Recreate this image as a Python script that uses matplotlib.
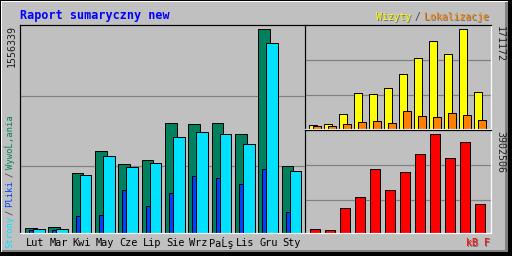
import matplotlib
matplotlib.use("Agg")
import matplotlib.pyplot as plt
from matplotlib.patches import Rectangle

# month labels as they appear in the picture (bytes shown through the wrong code page)
MONTHS = ["Lut", "Mar", "Kwi", "May", "Cze", "Lip", "Sie", "Wrz", "PaĹş", "Lis", "Gru", "Sty"]

HITS = [40800, 48500, 461800, 630200, 530700, 561300, 836800, 829200, 836800, 760300, 1556339, 515400]
FILES = [25500, 25500, 132700, 140300, 331700, 209200, 308700, 438800, 423500, 377600, 492400, 163300]
PAGES = [33200, 33200, 446500, 591900, 507700, 538300, 737300, 768000, 760300, 683800, 1449200, 477100]

VISITS = [5800, 7500, 24950, 62100, 59800, 70200, 93400, 122400, 150300, 129400, 171172, 63800]
SITES = [4060, 4060, 7540, 11600, 13350, 9860, 30750, 21470, 19730, 26690, 23210, 15090]

KBYTES = [171400, 131800, 975600, 1410700, 2518200, 1687600, 2399500, 3111400, 3902506, 2953200, 3586100, 1133800]

BG = "#C0C0C0"
C_HITS = "#00805C"
C_FILES = "#0040FF"
C_PAGES = "#00E0FF"
C_VISITS = "#FFFF00"
C_SITES = "#FF8000"
C_KB = "#FF0000"

W, H = 512, 256
PX = 72 / 100  # one pixel in points at dpi 100
MONO = "DejaVu Sans Mono"


def box(x0, y0, x1, y1):
    return [x0 / W, 1 - y1 / H, (x1 - x0) / W, (y1 - y0) / H]


def rect(fig, x0, y0, x1, y1, color):
    fig.add_artist(Rectangle((x0 / W, 1 - y1 / H), (x1 - x0) / W, (y1 - y0) / H,
                             transform=fig.transFigure, facecolor=color, edgecolor="none", zorder=0))


def label(fig, x, y, s, color, shadow=True, **kw):
    if shadow:
        fig.text((x + 1) / W, 1 - (y + 1) / H, s, color="#707070", family=MONO, **kw)
    fig.text(x / W, 1 - y / H, s, color=color, family=MONO, **kw)


def panel(fig, rect_px, x0, slot, ymax):
    ax = fig.add_axes(box(*rect_px))
    ax.set_facecolor(BG)
    ax.set_xlim((rect_px[0] - x0) / slot, (rect_px[2] - x0) / slot)
    ax.set_ylim(0, ymax)
    ax.set_xticks([])
    ax.set_yticks([])
    for side, col in [("top", "black"), ("left", "black"), ("bottom", "white"), ("right", "white")]:
        ax.spines[side].set_color(col)
        ax.spines[side].set_linewidth(1.2 * PX)
    for frac in (0.32, 0.66):
        ax.axhline(frac * ymax, color="#808080", lw=1.2 * PX, zorder=1)
    return ax


fig = plt.figure(figsize=(5.12, 2.56), dpi=100)
fig.patch.set_facecolor(BG)
rect(fig, 0, 0, 512, 256, "black")
rect(fig, 1, 1, 508, 252, "white")
rect(fig, 2, 2, 508, 252, "#808080")
rect(fig, 2, 2, 505, 250, BG)

n = len(MONTHS)
xs = list(range(n))
edge = dict(edgecolor="black", linewidth=PX, align="edge", zorder=2)

# main panel: hits / files / pages
slot = 70 / 3
ax = panel(fig, (20, 25, 305, 233), 25, slot, max(HITS) * 1.0213)
ax.bar(xs, HITS, 11.7 / slot, color=C_HITS, **edge)
ax.bar([x + 4 / slot for x in xs], FILES, 4 / slot, color=C_FILES, **edge)
ax.bar([x + 8 / slot for x in xs], PAGES, 11.7 / slot, color=C_PAGES, **edge)
for x, m in zip(xs, MONTHS):
    cx = 25 + (x + 10 / slot) * slot
    fig.text(cx / W, 1 - 243 / H, m, ha="center", va="center", family=MONO, fontsize=7.4, color="black")

# top right: visits / sites
ax2 = panel(fig, (305, 25, 491, 128.5), 309, 15, max(VISITS) * 1.044)
ax2.bar(xs, VISITS, 7.5 / 15, color=C_VISITS, **edge)
ax2.bar([x + 4 / 15 for x in xs], SITES, 7.6 / 15, color=C_SITES, **edge)

# bottom right: kbytes
ax3 = panel(fig, (305, 130, 491, 233), 309, 15, max(KBYTES) * 1.0405)
ax3.bar([x + 1.3 / 15 for x in xs], KBYTES, 9.3 / 15, color=C_KB, **edge)

# texts
fig.text(20 / W, 1 - 15 / H, "Raport sumaryczny new", color="#0000FF", family=MONO,
         fontsize=8.5, fontweight="bold", va="center")

label(fig, 376, 17, "Wizyty", C_VISITS, fontsize=7, va="center")
label(fig, 415, 17, "/", "#404040", shadow=False, fontsize=7, va="center")
label(fig, 424, 17, "Lokalizacje", C_SITES, fontsize=7, va="center")

label(fig, 490, 243, "kB F", C_KB, fontsize=7.2, va="center", ha="right")

fig.text(12 / W, 1 - 25 / H, f"{max(HITS)}", rotation=90, ha="center", va="top",
         family=MONO, fontsize=7.2, color="#202020")
fig.text(500 / W, 1 - 26 / H, f"{max(VISITS)}", rotation=-90, ha="center", va="top",
         family=MONO, fontsize=7.2, color="#202020")
fig.text(500 / W, 1 - 131 / H, f"{max(KBYTES)}", rotation=-90, ha="center", va="top",
         family=MONO, fontsize=7.2, color="#202020")

kw = dict(rotation=90, ha="center", va="bottom", fontsize=6.4)
label(fig, 10, 248, "Strony", C_PAGES, shadow=False, **kw)
label(fig, 10, 215, "/", "#404040", shadow=False, **kw)
label(fig, 10, 207, "Pliki", C_FILES, shadow=False, **kw)
label(fig, 10, 177, "/", "#404040", shadow=False, **kw)
label(fig, 10, 169, "WywoĹ‚ania", C_HITS, shadow=False, **kw)

fig.savefig("out.png", dpi=100, facecolor=BG)
